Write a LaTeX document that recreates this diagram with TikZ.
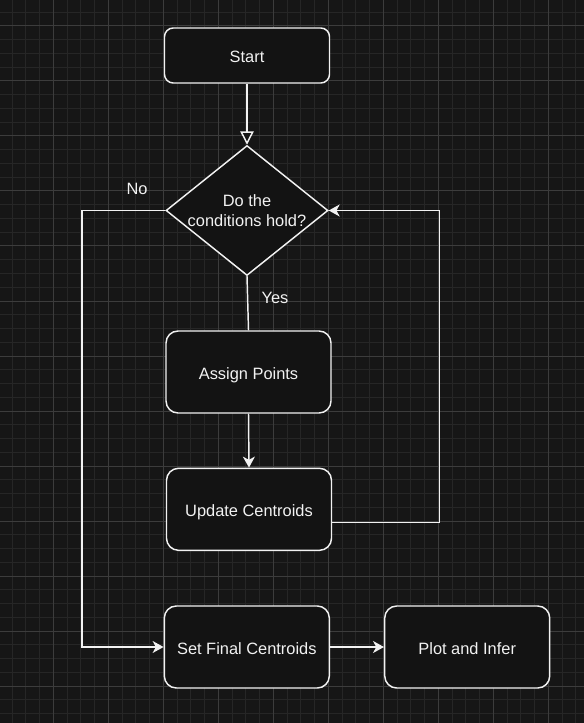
\documentclass[tikz,border=0pt]{standalone}
\usepackage{fontspec}
\setmainfont{Liberation Sans}
\usetikzlibrary{arrows.meta,shapes.geometric}
\definecolor{bg}{HTML}{161616}
\definecolor{boxfill}{HTML}{131313}
\definecolor{gridminor}{HTML}{262626}
\definecolor{gridmajor}{HTML}{3C3C3C}
\definecolor{ink}{HTML}{F2F2F2}
\tikzset{
  label text/.style={text=ink, font=\fontsize{12.3pt}{14.6pt}\selectfont, inner sep=0pt, align=center},
  stepbox/.style={draw=ink, fill=boxfill, line width=1.1pt, rounded corners=9pt,
    minimum width=123.75pt, minimum height=61.5pt, label text,
    text height=11pt, text depth=0pt},
  startbox/.style={stepbox, rounded corners=6.5pt, minimum height=41.25pt},
  decision/.style={draw=ink, fill=boxfill, line width=1.1pt, diamond, inner sep=0pt,
    minimum width=121.5pt, minimum height=97.5pt},
  flow/.style={draw=ink, line width=1.1pt, -{Stealth[length=8.2pt, width=9pt, inset=2.4pt]}},
  openflow/.style={draw=ink, line width=1.1pt, -{Triangle[open, length=10pt, width=10pt, fill=bg]}},
  plain/.style={draw=ink, line width=1.1pt},
}
\begin{document}
\begin{tikzpicture}[x=0.75pt, y=-0.75pt]
  % canvas and grid
  \fill[bg] (0,0) rectangle (584,723);
  \useasboundingbox (0,0) rectangle (584,723);
  \begin{scope}
    \clip (0,0) rectangle (584,723);
    \foreach \i in {0,...,43} {
      \pgfmathsetmacro{\gx}{-1.7+13.75*\i}
      \draw[gridminor, line width=0.75pt] (\gx,0) -- (\gx,723);
    }
    \foreach \j in {0,...,53} {
      \pgfmathsetmacro{\gy}{-1.5+13.75*\j}
      \draw[gridminor, line width=0.75pt] (0,\gy) -- (584,\gy);
    }
    \foreach \i in {0,4,...,43} {
      \pgfmathsetmacro{\gx}{-1.7+13.75*\i}
      \draw[gridmajor, line width=0.75pt] (\gx,0) -- (\gx,723);
    }
    \foreach \j in {2,6,...,53} {
      \pgfmathsetmacro{\gy}{-1.5+13.75*\j}
      \draw[gridmajor, line width=0.75pt] (0,\gy) -- (584,\gy);
    }
  \end{scope}

  % nodes
  \node[startbox] (start) at (247,55.5) {Start};
  \node[decision] (cond) at (247,210.5) {};
  \node[label text] (condtext) at (247,210.5) {Do the\\conditions hold?};
  \node[stepbox] (assign) at (248.5,372) {Assign Points};
  \node[stepbox] (update) at (249,509.3) {Update Centroids};
  \node[stepbox] (final) at (246.8,647) {Set Final Centroids};
  \node[stepbox] (plot) at (467.2,647) {Plot and Infer};

  \node[label text] (nolabel) at (137,189) {No};
  \node[label text] (yeslabel) at (275,298) {Yes};

  % bend points of the routed connectors
  \coordinate (noL) at (82,210.5);
  \coordinate (loopR) at (439.5,210.5);

  % connectors
  \draw[openflow] (start) -- (cond.north);
  \draw[plain] (cond.south) -- (assign.north);
  \draw[flow] (assign.south) -- (update.north);
  \draw[flow] ([yshift=-9.75pt]update.east) -| (loopR) -- (cond.east);
  \draw[flow] (cond.west) -- (noL) |- (final.west);
  \draw[flow] (final.east) -- (plot.west);
\end{tikzpicture}
\end{document}
